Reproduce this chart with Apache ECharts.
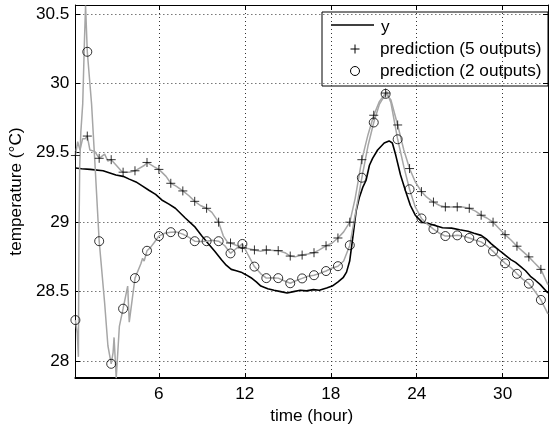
<!DOCTYPE html>
<html><head><meta charset="utf-8">
<script src="https://cdn.jsdelivr.net/npm/echarts@6/dist/echarts.min.js"></script>
<style>html,body{margin:0;padding:0;background:#fff}#c{width:549px;height:430px}</style>
</head><body><div id="c"></div>
<script>
const xTicks = [6, 12, 18, 24, 30];
const yTicks = [28, 28.5, 29, 29.5, 30, 30.5];
const xLabel = 'time (hour)';
const yLabel = 'temperature (°C)';
const seriesNames = ['y', 'prediction (5 outputs)', 'prediction (2 outputs)'];

const markerTimes = [0.17, 1.0, 1.83, 2.67, 3.5, 4.33, 5.17, 6.0, 6.83, 7.67, 8.5, 9.33, 10.17, 11.0, 11.83, 12.67, 13.5, 14.33, 15.17, 16.0, 16.83, 17.67, 18.5, 19.33, 20.17, 21.0, 21.83, 22.67, 23.5, 24.33, 25.17, 26.0, 26.83, 27.67, 28.5, 29.33, 30.17, 31.0, 31.83, 32.67];
const pred5Markers = [29.48, 29.62, 29.46, 29.45, 29.36, 29.37, 29.43, 29.38, 29.28, 29.225, 29.15, 29.1, 29.0, 28.85, 28.815, 28.8, 28.8, 28.795, 28.756, 28.763, 28.78, 28.83, 28.886, 29.0, 29.45, 29.77, 29.93, 29.7, 29.386, 29.22, 29.145, 29.11, 29.11, 29.1, 29.05, 29.0, 28.91, 28.827, 28.75, 28.66];
const pred2Markers = [28.295, 30.227, 28.863, 27.98, 28.377, 28.597, 28.794, 28.9, 28.928, 28.914, 28.863, 28.863, 28.863, 28.775, 28.843, 28.68, 28.597, 28.597, 28.56, 28.595, 28.618, 28.648, 28.683, 28.834, 29.32, 29.718, 29.924, 29.597, 29.237, 29.027, 28.95, 28.9, 28.905, 28.886, 28.858, 28.79, 28.704, 28.628, 28.557, 28.44];

const pred5ExtraTimes = [0.33, 0.49, 0.67, 0.85, 1.18, 1.52, 2.21, 2.44, 3.02, 3.36, 3.93, 5.0, 5.65, 6.5, 7.2, 8.1, 8.9, 9.7, 10.5, 10.8, 12.2, 13.1, 14.8, 15.5, 16.4, 17.2, 18.1, 18.9, 19.7, 20.6, 21.4, 21.9, 22.2, 23.1, 23.9, 24.7, 25.6, 26.4, 27.2, 28.1, 28.9, 29.7, 30.6, 31.4, 32.2, 33.16];
const pred5Extra = [29.58, 29.52, 29.6, 29.6, 29.52, 29.51, 29.49, 29.44, 29.41, 29.37, 29.36, 29.41, 29.4, 29.33, 29.26, 29.19, 29.12, 29.07, 28.9, 28.855, 28.81, 28.79, 28.78, 28.75, 28.77, 28.8, 28.85, 28.93, 29.17, 29.63, 29.87, 29.94, 29.88, 29.52, 29.29, 29.18, 29.12, 29.11, 29.11, 29.08, 29.03, 28.96, 28.87, 28.79, 28.71, 28.55];

const pred2ExtraTimes = [0.3, 0.38, 0.42, 0.47, 0.55, 0.68, 0.8, 0.88, 1.3, 1.52, 2.21, 2.44, 2.8, 2.87, 3.02, 3.24, 3.82, 3.93, 4.74, 4.86, 4.97, 5.43, 5.65, 6.4, 7.2, 8.1, 8.9, 9.7, 10.6, 11.4, 12.2, 13.1, 13.9, 14.7, 15.6, 16.4, 17.2, 18.1, 18.9, 19.7, 20.6, 21.4, 21.9, 22.2, 23.1, 23.9, 24.7, 25.6, 26.4, 27.2, 28.1, 28.9, 29.7, 30.6, 31.4, 32.2, 33.16];
const pred2Extra = [28.2, 28.03, 28.9, 29.4, 29.65, 29.85, 30.3, 30.56, 29.85, 29.45, 28.42, 28.11, 28.06, 28.17, 27.877, 28.25, 28.54, 28.28, 28.7, 28.74, 28.72, 28.82, 28.85, 28.92, 28.93, 28.89, 28.86, 28.87, 28.83, 28.81, 28.77, 28.63, 28.6, 28.58, 28.58, 28.61, 28.63, 28.67, 28.72, 29.05, 29.55, 29.85, 29.94, 29.86, 29.4, 29.11, 28.99, 28.92, 28.9, 28.9, 28.87, 28.83, 28.75, 28.67, 28.59, 28.51, 28.34];

const yTimes = [0.17, 0.6, 1.2, 2.1, 3.0, 3.5, 3.93, 4.4, 4.86, 5.3, 5.77, 6.2, 6.7, 7.15, 7.84, 8.53, 9.0, 9.44, 9.9, 10.37, 10.7, 11.05, 11.4, 11.74, 12.1, 12.43, 12.8, 13.12, 13.6, 14.04, 14.5, 14.95, 15.4, 15.87, 16.3, 16.79, 17.2, 17.71, 18.1, 18.51, 18.86, 19.1, 19.32, 19.55, 19.77, 20.0, 20.23, 20.46, 20.7, 20.92, 21.27, 21.5, 21.73, 22.07, 22.3, 22.53, 22.87, 23.22, 23.56, 23.9, 24.37, 24.83, 25.28, 25.8, 26.43, 27.0, 27.58, 28.0, 28.5, 28.85, 29.19, 29.55, 29.88, 30.2, 30.57, 30.9, 31.26, 31.6, 31.94, 32.3, 32.63, 33.16];
const yValues = [29.39, 29.385, 29.38, 29.37, 29.34, 29.33, 29.31, 29.29, 29.26, 29.23, 29.2, 29.16, 29.13, 29.1, 29.03, 28.964, 28.9, 28.846, 28.79, 28.73, 28.69, 28.66, 28.65, 28.64, 28.62, 28.6, 28.57, 28.54, 28.52, 28.51, 28.5, 28.49, 28.5, 28.51, 28.505, 28.514, 28.51, 28.526, 28.54, 28.57, 28.6, 28.64, 28.72, 28.9, 29.08, 29.18, 29.25, 29.3, 29.41, 29.46, 29.52, 29.545, 29.57, 29.585, 29.57, 29.485, 29.34, 29.225, 29.12, 29.05, 29.0, 28.99, 28.976, 28.96, 28.957, 28.945, 28.934, 28.92, 28.905, 28.88, 28.846, 28.815, 28.787, 28.76, 28.73, 28.71, 28.68, 28.65, 28.61, 28.58, 28.55, 28.49];

function pairs(t, v) { return t.map((x, i) => [x, v[i]]); }
function merged(t1, v1, t2, v2) { return pairs(t1, v1).concat(pairs(t2, v2)).sort((a, b) => a[0] - b[0]); }

const FONT = "'Liberation Sans', Arial, Helvetica, sans-serif";
const FS = 17.2;
const X_MIN = 1 / 6, X_MAX = 33 + 1 / 6;
const Y_MIN = 27.877, Y_MAX = 30.564;
const gridLine = { show: true, lineStyle: { color: '#333', width: 1, type: [1, 3] } };

function xAxisDef(pos, main) {
  return {
    type: 'value', position: pos, min: X_MIN, max: X_MAX,
    axisLine: { show: true, onZero: false, lineStyle: { color: '#000', width: main ? 2 : 1 } },
    axisTick: { show: true, inside: true, length: 5, customValues: xTicks, lineStyle: { color: '#000', width: 1 } },
    axisLabel: { show: main, customValues: xTicks, color: '#000', fontSize: FS, fontFamily: FONT, margin: 8 },
    splitLine: main ? gridLine : { show: false },
    name: main ? xLabel : '', nameLocation: 'middle', nameGap: 24,
    nameTextStyle: { color: '#000', fontSize: FS, fontFamily: FONT }
  };
}
function yAxisDef(pos, main) {
  return {
    type: 'value', position: pos, min: Y_MIN, max: Y_MAX,
    axisLine: { show: true, onZero: false, lineStyle: { color: '#000', width: 1 } },
    axisTick: { show: true, inside: true, length: 5, customValues: yTicks, lineStyle: { color: '#000', width: 1 } },
    axisLabel: { show: main, customValues: yTicks, color: '#000', fontSize: FS, fontFamily: FONT, margin: 6,
      formatter: v => String(v) },
    splitLine: main ? gridLine : { show: false },
    name: main ? yLabel : '', nameLocation: 'middle', nameGap: 44,
    nameTextStyle: { color: '#000', fontSize: FS, fontFamily: FONT }
  };
}

const chart = echarts.init(document.getElementById('c'), null, { renderer: 'canvas' });
const GRAY = '#a6a6a6';
const plusPath = 'path://M0,5L10,5M5,0L5,10';
chart.setOption({
  animation: false,
  backgroundColor: '#fff',
  grid: { left: 69, right: 1, top: 5, bottom: 47, containLabel: false },
  xAxis: [xAxisDef('bottom', true), xAxisDef('top', false)],
  yAxis: [yAxisDef('left', true), yAxisDef('right', false)],
  series: [
    { name: seriesNames[0], type: 'line', data: pairs(yTimes, yValues), showSymbol: false,
      lineStyle: { color: '#000', width: 1.6 }, z: 2 },
    { name: seriesNames[1], type: 'line', data: merged(markerTimes, pred5Markers, pred5ExtraTimes, pred5Extra),
      showSymbol: false, lineStyle: { color: GRAY, width: 1.5 }, z: 3 },
    { name: seriesNames[2], type: 'line', data: merged(markerTimes, pred2Markers, pred2ExtraTimes, pred2Extra),
      showSymbol: false, lineStyle: { color: GRAY, width: 1.5 }, z: 3 },
    { name: seriesNames[1] + ' markers', type: 'scatter', data: pairs(markerTimes, pred5Markers), clip: false,
      symbol: plusPath, symbolSize: 9,
      itemStyle: { color: 'transparent', borderColor: '#000', borderWidth: 1 }, z: 4 },
    { name: seriesNames[2] + ' markers', type: 'scatter', data: pairs(markerTimes, pred2Markers), clip: false,
      symbol: 'circle', symbolSize: 9,
      itemStyle: { color: 'transparent', borderColor: '#000', borderWidth: 1 }, z: 4 }
  ],
  graphic: [
    { type: 'group', z: 100, children: [
      { type: 'rect', shape: { x: 322, y: 12, width: 226, height: 74 },
        style: { fill: '#fff', stroke: '#000', lineWidth: 1 } },
      { type: 'line', shape: { x1: 331, y1: 25, x2: 374, y2: 25 }, style: { stroke: '#000', lineWidth: 1.5 } },
      { type: 'line', shape: { x1: 350.5, y1: 49, x2: 359.5, y2: 49 }, style: { stroke: '#000', lineWidth: 1 } },
      { type: 'line', shape: { x1: 355, y1: 44.5, x2: 355, y2: 53.5 }, style: { stroke: '#000', lineWidth: 1 } },
      { type: 'circle', shape: { cx: 355, cy: 71, r: 4.5 }, style: { fill: 'none', stroke: '#000', lineWidth: 1 } },
      { type: 'text', x: 381, y: 27, style: { text: seriesNames[0], fill: '#000', font: FS + 'px ' + FONT, verticalAlign: 'middle' } },
      { type: 'text', x: 380, y: 49, style: { text: seriesNames[1], fill: '#000', font: FS + 'px ' + FONT, verticalAlign: 'middle' } },
      { type: 'text', x: 380, y: 71, style: { text: seriesNames[2], fill: '#000', font: FS + 'px ' + FONT, verticalAlign: 'middle' } }
    ]}
  ]
});
</script></body></html>
